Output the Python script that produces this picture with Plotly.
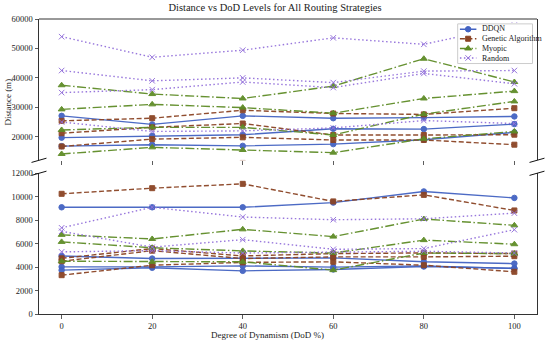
import plotly.graph_objects as go

# ---------------- data ----------------
dod_levels = [0, 20, 40, 60, 80, 100]
strategies = ["DDQN", "Genetic Algorithm", "Myopic", "Random"]

ddqn_runs = [
    [27100, 24200, 27100, 26300, 26500, 26900],
    [19700, 20300, 20700, 22700, 22600, 24300],
    [16800, 17300, 16900, 17500, 19000, 21500],
    [9100, 9100, 9100, 9500, 10450, 9900],
    [4950, 4730, 4750, 4790, 4450, 4300],
    [4020, 4020, 4100, 4000, 4100, 3880],
    [3740, 3940, 3680, 3800, 4050, 3900],
]
ga_runs = [
    [25400, 26300, 29000, 27900, 27600, 29700],
    [21200, 23200, 24500, 20600, 20600, 20700],
    [16700, 19200, 19800, 18900, 18900, 17300],
    [10250, 10730, 11100, 9600, 10160, 8830],
    [4750, 5580, 4950, 5150, 5210, 5150],
    [4500, 5400, 4730, 4870, 4870, 4930],
    [3310, 4160, 4400, 4450, 4160, 3600],
]
myopic_runs = [
    [37500, 34500, 33000, 37200, 46500, 38600],
    [29300, 31000, 29900, 28000, 33000, 35500],
    [22300, 23200, 23200, 20600, 27700, 32000],
    [14150, 16400, 15500, 14600, 19300, 21800],
    [6750, 6400, 7220, 6600, 8100, 7560],
    [6150, 5650, 5380, 5200, 6300, 5950],
    [4500, 4450, 4450, 3740, 5200, 5150],
]
random_runs = [
    [54000, 47000, 49400, 53600, 51400, 58000],
    [42500, 39000, 40000, 38400, 42300, 42500],
    [35000, 36000, 38600, 36700, 41500, 38000],
    [25000, 21800, 22000, 23000, 25500, 24500],
    [7350, 9100, 8270, 8040, 8120, 8600],
    [7050, 5700, 6340, 5520, 5580, 7190],
    [5300, 5400, 5200, 5300, 5350, 5200],
]

top_ticks = [20000, 30000, 40000, 50000, 60000]
bottom_ticks = [0, 2000, 4000, 6000, 8000, 10000, 12000]
top_range = [12000, 60000]
bottom_range = [0, 12000]

# ---------------- styles ----------------
styles = {
    "DDQN": dict(color="#4363c2", dash="solid", symbol="circle", size=5.5),
    "Genetic Algorithm": dict(color="#8b4424", dash="5px,2.5px", symbol="square", size=5),
    "Myopic": dict(color="#5e8c26", dash="9px,2.5px,1.5px,2.5px", symbol="triangle-up", size=6),
    "Random": dict(color="#9370db", dash="1.5px,2.5px", symbol="x-thin", size=5.5),
}
runs_by_strategy = {
    "DDQN": ddqn_runs,
    "Genetic Algorithm": ga_runs,
    "Myopic": myopic_runs,
    "Random": random_runs,
}

FONT = "Liberation Serif, Times New Roman, serif"
AX = "#333333"

fig = go.Figure()

for name in strategies:
    st = styles[name]
    for run in runs_by_strategy[name]:
        for xa, ya in (("x2", "y"), ("x", "y2")):
            fig.add_trace(go.Scatter(
                x=dod_levels, y=run, xaxis=xa, yaxis=ya,
                mode="lines+markers", showlegend=False,
                line=dict(color=st["color"], width=1.4, dash=st["dash"]),
                marker=dict(symbol=st["symbol"], size=st["size"], color=st["color"],
                            line=dict(color=st["color"], width=1.0)),
                opacity=0.95,
            ))

# ---------------- custom compact legend (overlay axes x3/y3) ----------------
leg_x = [0.8377, 0.994]
leg_y = [0.845, 0.9875]
fig.add_trace(go.Scatter(
    x=[0, 1, 1, 0, 0], y=[0, 0, 1, 1, 0], xaxis="x3", yaxis="y3",
    mode="lines", fill="toself", fillcolor="rgba(255,255,255,0.82)",
    line=dict(color="#cccccc", width=1), showlegend=False, hoverinfo="skip"))
legend_rows = [0.865, 0.625, 0.38, 0.14]
annotations = []
for name, yy in zip(strategies, legend_rows):
    st = styles[name]
    fig.add_trace(go.Scatter(
        x=[0.03, 0.25], y=[yy, yy], xaxis="x3", yaxis="y3", mode="lines",
        line=dict(color=st["color"], width=1.4, dash=st["dash"]),
        showlegend=False, hoverinfo="skip"))
    fig.add_trace(go.Scatter(
        x=[0.14], y=[yy], xaxis="x3", yaxis="y3", mode="markers",
        marker=dict(symbol=st["symbol"], size=st["size"], color=st["color"],
                    line=dict(color=st["color"], width=1.0)),
        showlegend=False, hoverinfo="skip"))
    annotations.append(dict(
        x=leg_x[0] + 0.30 * (leg_x[1] - leg_x[0]),
        y=leg_y[0] + yy * (leg_y[1] - leg_y[0]),
        xref="paper", yref="paper", text=name, showarrow=False,
        xanchor="left", yanchor="middle", font=dict(family=FONT, size=8, color="#222")))

# axis labels
annotations.append(dict(
    x=-0.062, y=0.717, xref="paper", yref="paper", text="Distance (m)",
    showarrow=False, textangle=-90, xanchor="center", yanchor="middle",
    font=dict(family=FONT, size=9, color="#222")))
annotations.append(dict(
    x=0.459, y=-0.071, xref="paper", yref="paper", text="Degree of Dynamism (DoD %)",
    showarrow=False, xanchor="center", yanchor="middle",
    font=dict(family=FONT, size=9, color="#222")))

# ---------------- frame / break marks ----------------
top_dom = [0.521, 1.0]
bot_dom = [0.0, 0.477]
d = 0.015
shapes = [
    dict(type="line", xref="paper", yref="paper", x0=0, x1=1, y0=1, y1=1,
         line=dict(color=AX, width=1)),
]
for yb in (top_dom[0], bot_dom[1]):
    dy = d * (top_dom[1] - top_dom[0])
    for xc in (0, 1):
        shapes.append(dict(type="line", xref="paper", yref="paper",
                           x0=xc - d, x1=xc + d, y0=yb - dy, y1=yb + dy,
                           line=dict(color="#111111", width=1)))

axis_common = dict(showgrid=False, zeroline=False, ticks="outside", ticklen=3.5,
                   tickwidth=0.8, tickcolor=AX,
                   tickfont=dict(family=FONT, size=8.5, color="#222"))

fig.update_layout(
    width=550, height=343,
    margin=dict(l=38, r=13, t=19, b=27),
    paper_bgcolor="white", plot_bgcolor="white",
    font=dict(family=FONT, color="#222"),
    title=dict(text="Distance vs DoD Levels for All Routing Strategies",
               x=0.5, xref="container", xanchor="center",
               y=1 - 7.5 / 343, yref="container", yanchor="middle",
               font=dict(family=FONT, size=10.5, color="#222")),
    xaxis=dict(domain=[0, 1], anchor="y2", range=[-5, 105], tickvals=dod_levels,
               showline=True, linecolor=AX, linewidth=1, **axis_common),
    xaxis2=dict(domain=[0, 1], anchor="y", range=[-5, 105], matches="x",
                tickvals=dod_levels, showticklabels=False, showline=False,
                **axis_common),
    yaxis=dict(domain=top_dom, anchor="x2", range=top_range, tickvals=top_ticks,
               tickformat="d", showline=True, mirror=True, linecolor=AX, linewidth=1,
               **axis_common),
    yaxis2=dict(domain=bot_dom, anchor="x", range=bottom_range, tickvals=bottom_ticks,
                tickformat="d", showline=True, mirror=True, linecolor=AX, linewidth=1,
                **axis_common),
    xaxis3=dict(domain=leg_x, anchor="y3", range=[-0.02, 1.02],
                visible=False, fixedrange=True),
    yaxis3=dict(domain=leg_y, anchor="x3", range=[-0.03, 1.03],
                visible=False, fixedrange=True),
    shapes=shapes,
    annotations=annotations,
    showlegend=False,
)

fig.write_html(
    "out.html",
    config={"displayModeBar": False, "staticPlot": True},
    post_script="document.body.style.margin='0';document.body.style.padding='0';",
)
